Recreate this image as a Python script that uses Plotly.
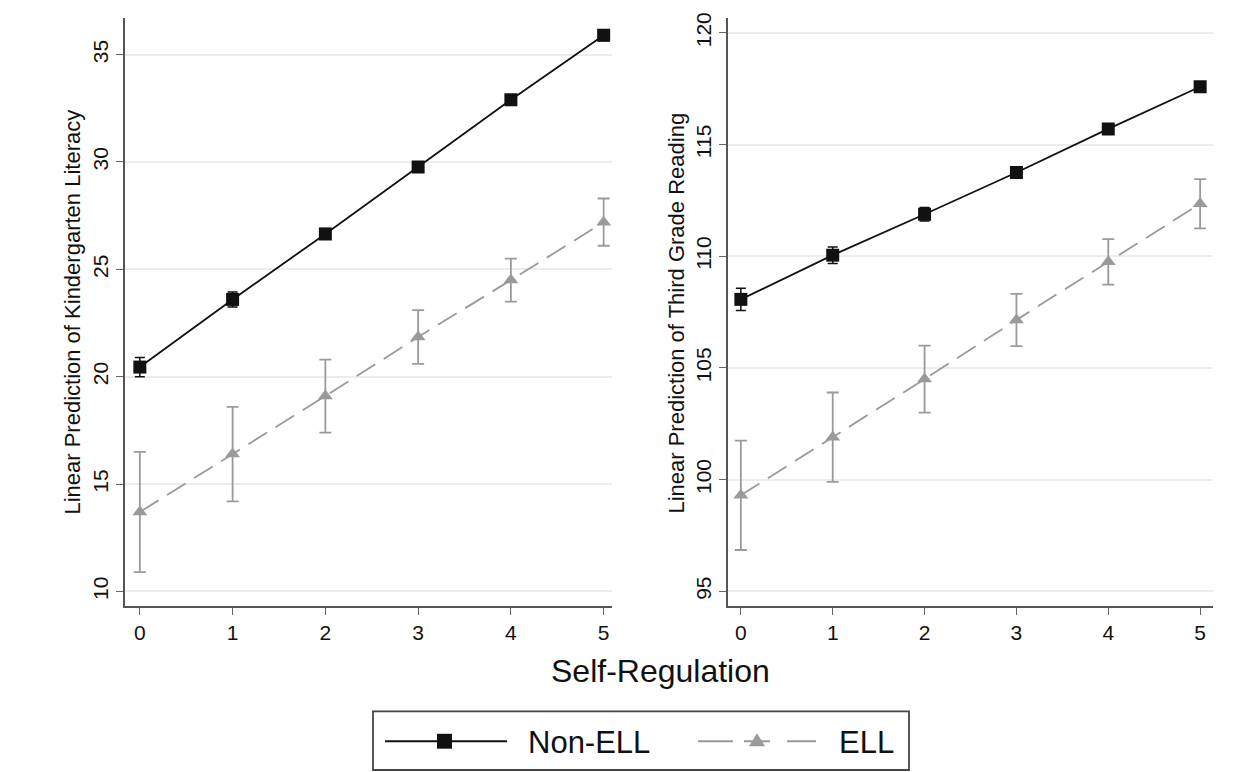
import plotly.graph_objects as go

x_vals = [0, 1, 2, 3, 4, 5]

# Left panel: Kindergarten Literacy
k_nonell = [20.45, 23.6, 26.65, 29.77, 32.9, 35.9]
k_nonell_err = [0.45, 0.35, 0.25, 0.22, 0.22, 0.25]
k_ell = [13.7, 16.4, 19.1, 21.85, 24.5, 27.2]
k_ell_err = [2.8, 2.2, 1.7, 1.25, 1.0, 1.1]

# Right panel: Third Grade Reading
r_nonell = [108.07, 110.05, 111.88, 113.75, 115.7, 117.59]
r_nonell_err = [0.5, 0.37, 0.3, 0.2, 0.2, 0.2]
r_ell = [99.3, 101.9, 104.5, 107.15, 109.75, 112.35]
r_ell_err = [2.45, 2.0, 1.5, 1.17, 1.02, 1.1]

left_yticks = [10, 15, 20, 25, 30, 35]
right_yticks = [95, 100, 105, 110, 115, 120]

series_names = ["Non-ELL", "ELL"]

BLACK = "#111111"
GRAY = "#9a9a9a"
FONT = "Liberation Sans, Arial, Helvetica, sans-serif"

fig = go.Figure()

def add_panel(xa, ya, nonell, nonell_err, ell, ell_err):
    fig.add_trace(go.Scatter(
        x=x_vals, y=nonell, xaxis=xa, yaxis=ya, name=series_names[0],
        mode="lines+markers", showlegend=False,
        line=dict(color=BLACK, width=1.8),
        marker=dict(symbol="square", size=13, color=BLACK),
        error_y=dict(type="data", array=nonell_err, color=BLACK, thickness=1.5, width=5),
    ))
    fig.add_trace(go.Scatter(
        x=x_vals, y=ell, xaxis=xa, yaxis=ya, name=series_names[1],
        mode="lines+markers", showlegend=False,
        line=dict(color=GRAY, width=1.8, dash="22px,10px"),
        marker=dict(symbol="triangle-up", size=13, color=GRAY),
        error_y=dict(type="data", array=ell_err, color=GRAY, thickness=1.8, width=6),
    ))

add_panel("x", "y", k_nonell, k_nonell_err, k_ell, k_ell_err)
add_panel("x2", "y2", r_nonell, r_nonell_err, r_ell, r_ell_err)

W, H = 1255, 772

def px(x):
    return x / W

def py(y):
    return 1 - y / H

xaxis_common = dict(
    tickvals=x_vals, ticks="outside", ticklen=7, tickcolor="#666",
    showline=True, linecolor="#555", linewidth=1.5, showgrid=False, zeroline=False,
    tickfont=dict(size=21, color=BLACK, family=FONT),
)
yaxis_common = dict(
    ticks="outside", ticklen=7, tickcolor="#666", tickangle=-90,
    showline=True, linecolor="#555", linewidth=1.5,
    showgrid=True, gridcolor="#ececec", gridwidth=1.5, zeroline=False,
    tickfont=dict(size=21, color=BLACK, family=FONT),
)

# Custom legend (decoration drawn in page coordinates)
shapes = [
    dict(type="rect", xref="paper", yref="paper", x0=px(373), x1=px(909), y0=py(770), y1=py(711),
         line=dict(color="#444", width=1.8), fillcolor="white", layer="above"),
    dict(type="line", xref="paper", yref="paper", x0=px(385), x1=px(507), y0=py(741), y1=py(741),
         line=dict(color=BLACK, width=2)),
    dict(type="rect", xref="paper", yref="paper", x0=px(437), x1=px(452), y0=py(748.5), y1=py(733.5),
         line=dict(color=BLACK, width=0), fillcolor=BLACK),
    dict(type="line", xref="paper", yref="paper", x0=px(698), x1=px(733), y0=py(741), y1=py(741),
         line=dict(color=GRAY, width=2)),
    dict(type="line", xref="paper", yref="paper", x0=px(744), x1=px(770), y0=py(741), y1=py(741),
         line=dict(color=GRAY, width=2)),
    dict(type="line", xref="paper", yref="paper", x0=px(787), x1=px(816), y0=py(741), y1=py(741),
         line=dict(color=GRAY, width=2)),
    dict(type="path", xref="paper", yref="paper",
         path=f"M {px(749)},{py(746)} L {px(765)},{py(746)} L {px(757)},{py(733)} Z",
         line=dict(color=GRAY, width=0), fillcolor=GRAY),
]

def ann(text, x, y, size, angle=0, xanchor="center"):
    return dict(text=text, x=px(x), y=py(y), xref="paper", yref="paper",
                xanchor=xanchor, yanchor="middle", textangle=angle, showarrow=False,
                font=dict(size=size, family=FONT, color=BLACK))

fig.update_layout(
    width=W, height=H,
    margin=dict(l=0, r=0, t=0, b=0),
    paper_bgcolor="white", plot_bgcolor="white",
    font=dict(family=FONT, color=BLACK),
    showlegend=False,
    xaxis=dict(domain=[px(125), px(612)], range=[-0.16, 5.09], **xaxis_common),
    xaxis2=dict(domain=[px(728), px(1213)], range=[-0.14, 5.14], **xaxis_common),
    yaxis=dict(domain=[py(605), py(12)], range=[9.31, 36.71],
               tickvals=left_yticks, anchor="x", **yaxis_common),
    yaxis2=dict(domain=[py(605), py(12)], range=[94.33, 120.67],
                tickvals=right_yticks, anchor="x2", **yaxis_common),
    shapes=shapes,
    annotations=[
        ann("Self-Regulation", 660, 670, 32),
        ann("Linear Prediction of Kindergarten Literacy", 73, 309, 22, angle=-90),
        ann("Linear Prediction of Third Grade Reading", 677, 310, 22, angle=-90),
        ann(series_names[0], 526, 742, 31, xanchor="left"),
        ann(series_names[1], 837, 742, 31, xanchor="left"),
    ],
)

fig.write_html("out.html")
